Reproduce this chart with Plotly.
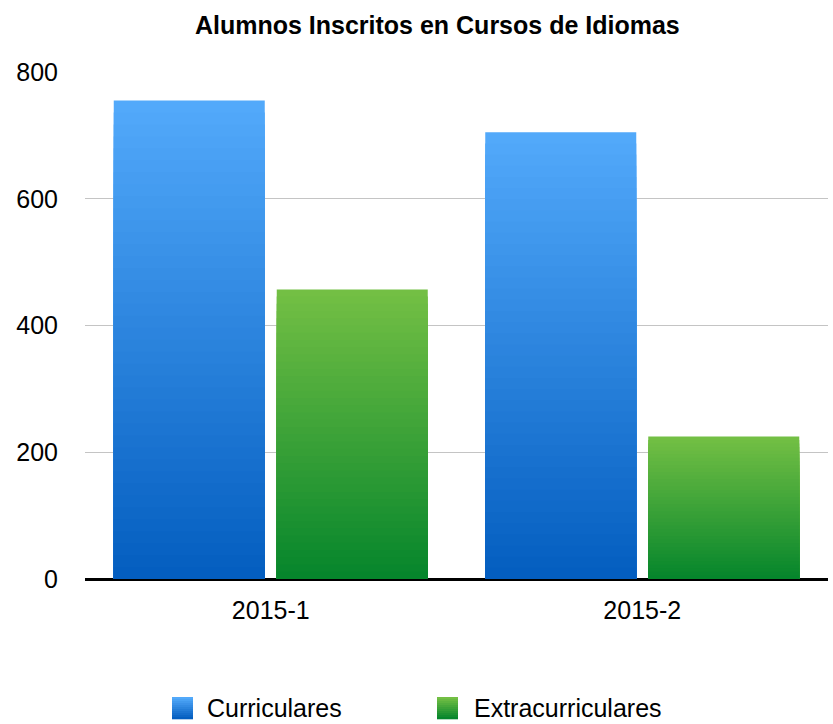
import plotly.graph_objects as go

# ---- data ----
categories = ["2015-1", "2015-2"]
series_names = ["Curriculares", "Extracurriculares"]
curriculares = [755, 705]
extracurriculares = [457, 225]
y_ticks = [0, 200, 400, 600, 800]

W, H = 833, 724
ML, MR, MT, MB = 85, 5, 72, 145
PW, PH = W - ML - MR, H - MT - MB

FONT = "Liberation Sans, Arial, Helvetica, sans-serif"
N_BANDS = 40

grad = {
    "Curriculares": ((82, 169, 250), (4, 94, 192)),
    "Extracurriculares": ((115, 191, 68), (6, 134, 44)),
}


def mix(c1, c2, t):
    return "rgb(%d,%d,%d)" % tuple(round(a + (b - a) * t) for a, b in zip(c1, c2))


fig = go.Figure()
for name, vals in zip(series_names, [curriculares, extracurriculares]):
    top, bot = grad[name]
    for k in range(N_BANDS):
        frac = (N_BANDS - k) / N_BANDS
        fig.add_trace(go.Bar(
            x=categories,
            y=[v * frac for v in vals],
            name=name,
            offsetgroup=name,
            marker=dict(color=mix(top, bot, k / (N_BANDS - 1)), line=dict(width=0)),
            showlegend=False,
            hoverinfo="skip",
        ))

# custom legend with gradient squares
def px_x(p):
    return (p - ML) / PW


def px_y(p):
    return (H - MB - p) / PH


shapes = []
annotations = []
legend_items = [("Curriculares", 172, 207), ("Extracurriculares", 437, 474)]
for name, sx, tx in legend_items:
    top, bot = grad[name]
    y0, y1, nb = 697, 719, 11
    for i in range(nb):
        a = y0 + (y1 - y0) * i / nb
        b = y0 + (y1 - y0) * (i + 1) / nb + 0.3
        shapes.append(dict(type="rect", xref="paper", yref="paper",
                           x0=px_x(sx), x1=px_x(sx + 21), y0=px_y(b), y1=px_y(a),
                           fillcolor=mix(top, bot, i / (nb - 1)), line=dict(width=0),
                           layer="above"))
    annotations.append(dict(text=name, xref="paper", yref="paper",
                            x=px_x(tx - 2), y=px_y(708), xanchor="left", yanchor="middle",
                            showarrow=False, font=dict(size=25, color="#000", family=FONT)))

fig.update_layout(
    width=W, height=H,
    margin=dict(l=ML, r=MR, t=MT, b=MB, pad=0, autoexpand=False),
    paper_bgcolor="white", plot_bgcolor="white",
    barmode="group", bargap=0.1225, bargroupgap=0.0736,
    title=dict(text="<b>Alumnos Inscritos en Cursos de Idiomas</b>",
               x=0.525, xref="container", xanchor="center",
               y=1 - 25 / H, yref="container", yanchor="middle",
               font=dict(size=25, color="#000", family=FONT)),
    font=dict(family=FONT, size=25, color="#000"),
    showlegend=False,
    hovermode=False,
    shapes=shapes,
    annotations=annotations,
    xaxis=dict(type="category", automargin=False, showgrid=False, showline=False,
               ticks="", ticklabelstandoff=14, tickfont=dict(size=25, color="#000")),
    yaxis=dict(range=[0, 800], tickvals=y_ticks, automargin=False, showgrid=True,
               gridcolor="#c4c4c4", gridwidth=1, zeroline=True, zerolinecolor="#000",
               zerolinewidth=2.5, showline=False, ticks="", ticklabelstandoff=26,
               tickfont=dict(size=25, color="#000")),
)

fig.write_html(
    "out.html",
    config={"displayModeBar": False},
    post_script="document.body.style.margin='0';document.body.style.overflow='hidden';",
)
